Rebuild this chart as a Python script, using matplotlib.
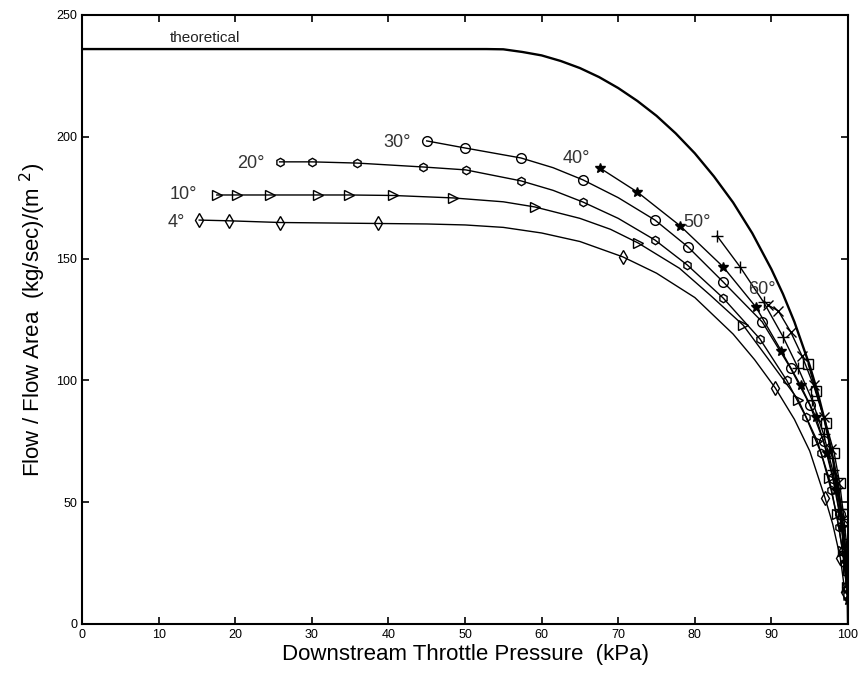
import matplotlib
matplotlib.use("Agg")
import matplotlib.pyplot as plt

plt.rcParams['font.family'] = ['Liberation Sans', 'DejaVu Sans']

# theoretical curve
theo_x = [0, 52.8, 55, 57.5, 60, 62.5, 65, 67.5, 70, 72.5, 75, 77.5, 80, 82.5, 85, 87.5,
          90, 91.5, 93, 95, 96, 97, 98, 99, 99.5, 99.7, 99.95, 100]
theo_y = [236, 236, 235.9, 234.8, 233.4, 231.1, 228.2, 224.5, 220, 214.7, 208.6, 201.4,
          193.2, 183.7, 173, 160.4, 145.6, 135.5, 124, 106, 95.4, 83, 68.2, 48.5, 34.4,
          26.7, 10.9, 0]

# measured series: curve points, and which of them carry a marker
deg4_x = [15.3, 19.2, 25.9, 38.6, 45, 50, 55, 60, 65, 70.6, 75, 80, 85, 87.8, 90.5, 93, 95, 97.0, 98, 99.0, 99.6]
deg4_y = [165.8, 165.5, 164.8, 164.4, 164.2, 163.8, 162.8, 160.5, 157, 150.7, 144, 134, 119, 108.5, 96.9, 84, 71, 51.7, 41, 27, 13]
deg4_marks = [0, 1, 2, 3, 9, 14, 17, 19, 20]

deg10_x = [17.6, 20.2, 24.5, 30.8, 34.9, 40.6, 48.4, 55, 59.1, 65, 69, 72.6, 78, 82, 86.3, 90, 93.5, 96, 97.5, 98.5, 99.3, 99.8]
deg10_y = [176.1, 176.1, 176.1, 176.1, 176.1, 175.9, 174.9, 173.3, 171.2, 166.5, 162, 156.4, 146, 135, 122.7, 107, 92, 75, 60, 45, 30, 15]
deg10_marks = [0, 1, 2, 3, 4, 5, 6, 8, 11, 14, 16, 17, 18, 19, 20, 21]

deg20_x = [25.8, 30.0, 35.9, 44.5, 50.1, 57.3, 61.5, 65.4, 70, 74.8, 79, 83.7, 88.5, 92, 94.5, 96.5, 97.8, 98.8, 99.5, 99.9]
deg20_y = [189.7, 189.7, 189.2, 187.6, 186.4, 181.9, 178, 173.2, 166.5, 157.6, 147.4, 133.8, 117, 100, 85, 70, 55, 40, 25, 12]
deg20_marks = [0, 1, 2, 3, 4, 5, 7, 9, 10, 11, 12, 13, 14, 15, 16, 17, 18, 19]

deg30_x = [45, 50, 57.3, 61.5, 65.4, 70, 74.8, 79.1, 83.7, 88.8, 92.5, 95, 96.8, 98, 98.9, 99.5, 99.9]
deg30_y = [198.3, 195.4, 191.3, 187.3, 182.3, 175, 165.8, 154.8, 140.4, 124, 105, 90, 75, 60, 45, 30, 15]
deg30_marks = [0, 1, 2, 4, 6, 7, 8, 9, 10, 11, 12, 13, 14, 15, 16]

deg40_x = [67.6, 72.5, 78.1, 83.7, 88, 91.3, 93.8, 95.8, 97.3, 98.4, 99.2, 99.7, 100]
deg40_y = [187.2, 177.3, 163.4, 146.6, 130, 112, 98, 85, 70, 55, 40, 25, 10]

deg50_x = [82.9, 85.9, 89, 91.5, 93.5, 95.3, 96.8, 98, 99, 99.6, 100]
deg50_y = [159.3, 146.6, 132, 118, 105, 92, 78, 63, 47, 30, 15]

deg60_x = [89.5, 90.9, 92.5, 94, 95.5, 96.8, 97.8, 98.7, 99.3, 99.8, 100]
deg60_y = [131, 128.5, 120, 110, 98, 85, 72, 58, 43, 28, 12]

open_x = [94.8, 95.8, 97.1, 98.2, 98.9, 99.4, 99.8, 100]
open_y = [106.7, 95.6, 82.5, 70, 58, 45, 33, 22]

labels = ['4°', '10°', '20°', '30°', '40°', '50°', '60°']
label_x = [11.2, 11.5, 20.2, 39.3, 62.7, 78.5, 86.9]
label_y = [164.6, 176.1, 189.2, 197.5, 190.9, 164.6, 137.1]

fig = plt.figure(figsize=(8.62, 6.8), dpi=100)
ax = fig.add_axes([0.0951, 0.0824, 0.8887, 0.8956])

ax.plot(theo_x, theo_y, color='black', lw=1.7)
ax.text(11.5, 240.6, 'theoretical', fontsize=11, va='center', color='#222222')

style = dict(color='black', lw=1.0, mec='black', mfc='none', ms=7, mew=1.0)
ax.plot(deg4_x, deg4_y, marker='d', markevery=deg4_marks, **style)
ax.plot(deg10_x, deg10_y, marker='>', markevery=deg10_marks, **style)
ax.plot(deg20_x, deg20_y, marker='h', markevery=deg20_marks, **dict(style, ms=6))
ax.plot(deg30_x, deg30_y, marker='o', markevery=deg30_marks, **style)
ax.plot(deg40_x, deg40_y, marker='*', **dict(style, mfc='black', ms=7))
ax.plot(deg50_x, deg50_y, marker='+', **dict(style, ms=9))
ax.plot(deg60_x, deg60_y, marker='x', **style)
ax.plot(open_x, open_y, marker='s', **style)

for t, lx, ly in zip(labels, label_x, label_y):
    ax.text(lx, ly, t, fontsize=13, va='center', color='#333333')

ax.set_xlim(0, 100)
ax.set_ylim(0, 250)
ax.set_xticks(range(0, 101, 10))
ax.set_yticks(range(0, 251, 50))
ax.tick_params(direction='in', top=True, right=True, length=5, width=1.2, labelsize=9)
for s in ax.spines.values():
    s.set_linewidth(1.5)

ax.set_xlabel('Downstream Throttle Pressure  (kPa)', fontsize=16, labelpad=2)
ax.set_ylabel('Flow / Flow Area  (kg/sec)/(m $^{2}$)', fontsize=16, labelpad=6)

fig.savefig('out.png', dpi=100)
